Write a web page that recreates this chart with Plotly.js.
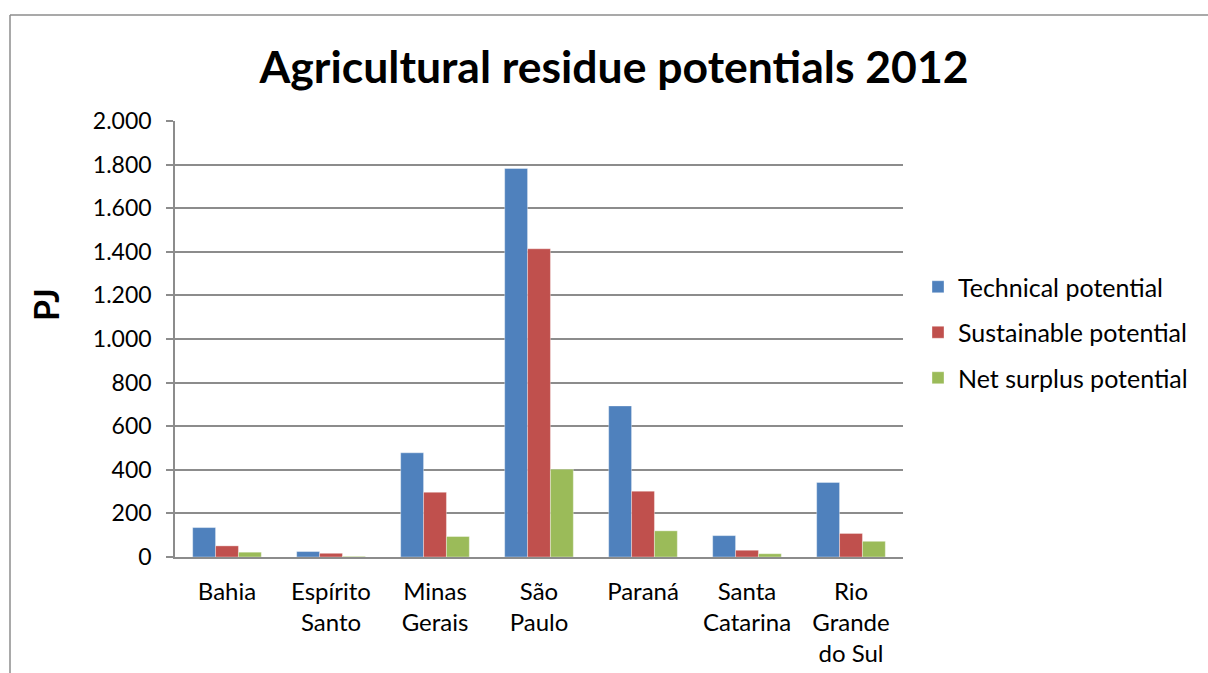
<!DOCTYPE html>
<html>
<head>
<meta charset="utf-8">
<script src="https://cdn.plot.ly/plotly-3.0.1.min.js"></script>
<style>
  html, body { margin: 0; padding: 0; background: #fff; }
  #chart { width: 1208px; height: 673px; }
</style>
</head>
<body>
<div id="chart"></div>
<script>
const categories = ["Bahia", "Espírito<br>Santo", "Minas<br>Gerais", "São<br>Paulo", "Paraná", "Santa<br>Catarina", "Rio<br>Grande<br>do Sul"];
const technical = [135, 25, 478, 1782, 693, 98, 342];
const sustainable = [51, 17, 297, 1414, 302, 31, 108];
const netSurplus = [22, 3, 94, 403, 120, 15, 72];
const seriesNames = ["Technical potential", "Sustainable potential", "Net surplus potential"];
const colors = ["#4F81BD", "#C0504D", "#9BBB59"];

const FONT = "Lato, 'Open Sans', sans-serif";
const seriesValues = [technical, sustainable, netSurplus];
const data = seriesValues.map((vals, i) => ({
  type: "bar",
  name: seriesNames[i],
  x: categories,
  y: vals,
  legendgroup: "g" + i,
  marker: { color: colors[i], line: { color: "rgba(255,255,255,0.6)", width: 0.6 } },
  hoverinfo: "x+y+name"
}));

// plot area: left 175, right 903, top 121, bottom 557
const L = 175, R = 903, T = 121, B = 557, W = 1208, H = 673;
const px = v => (v - L) / (R - L);
const py = v => (B - v) / (B - T);

const layout = {
  width: W, height: H,
  margin: { l: L, r: W - R, t: T, b: H - B, pad: 0 },
  paper_bgcolor: "#fff",
  plot_bgcolor: "#fff",
  separators: ",.",
  font: { family: FONT, size: 23, color: "#000" },
  title: {
    text: "<b>Agricultural residue potentials 2012</b>",
    font: { family: FONT, size: 44.5, color: "#000" },
    x: 614 / W, xanchor: "center", xref: "container",
    y: 1 - 67 / H, yanchor: "middle", yref: "container"
  },
  barmode: "group",
  bargap: 0.34,
  bargroupgap: 0,
  xaxis: {
    type: "category",
    showgrid: false,
    showline: true, linecolor: "#8c8c8c", linewidth: 1.5,
    ticks: "", ticklen: 0,
    ticklabelstandoff: 12,
    tickfont: { family: FONT, size: 24, color: "#000" },
    automargin: false
  },
  yaxis: {
    range: [0, 2000],
    dtick: 200,
    tick0: 0,
    separatethousands: true,
    tickformat: ",d",
    showgrid: true, gridcolor: "#8c8c8c", gridwidth: 1.5,
    showline: true, linecolor: "#8c8c8c", linewidth: 1.5,
    ticks: "outside", ticklen: 7, tickcolor: "#8c8c8c", tickwidth: 1.5,
    ticklabelstandoff: 10,
    zeroline: false,
    tickfont: { family: FONT, size: 23, color: "#000" },
    automargin: false
  },
  legend: {
    x: px(918), xanchor: "left",
    y: py(264), yanchor: "top",
    font: { family: FONT, size: 25, color: "#000" },
    tracegroupgap: 10,
    itemwidth: 30,
    bgcolor: "rgba(0,0,0,0)"
  },
  showlegend: true,
  annotations: [
    { text: "<b>PJ</b>", xref: "paper", yref: "paper", x: px(45), y: py(305), xanchor: "center", yanchor: "middle",
      textangle: -90, showarrow: false, font: { family: FONT, size: 34, color: "#000" } }
  ],
  shapes: [
    { type: "line", xref: "paper", yref: "paper", x0: px(10), x1: px(1210), y0: py(15), y1: py(15), line: { color: "#8c8c8c", width: 1.5 } },
    { type: "line", xref: "paper", yref: "paper", x0: px(10), x1: px(10), y0: py(15), y1: py(680), line: { color: "#8c8c8c", width: 1.5 } }
  ]
};

Plotly.newPlot("chart", data, layout, { displayModeBar: false });
</script>
</body>
</html>
